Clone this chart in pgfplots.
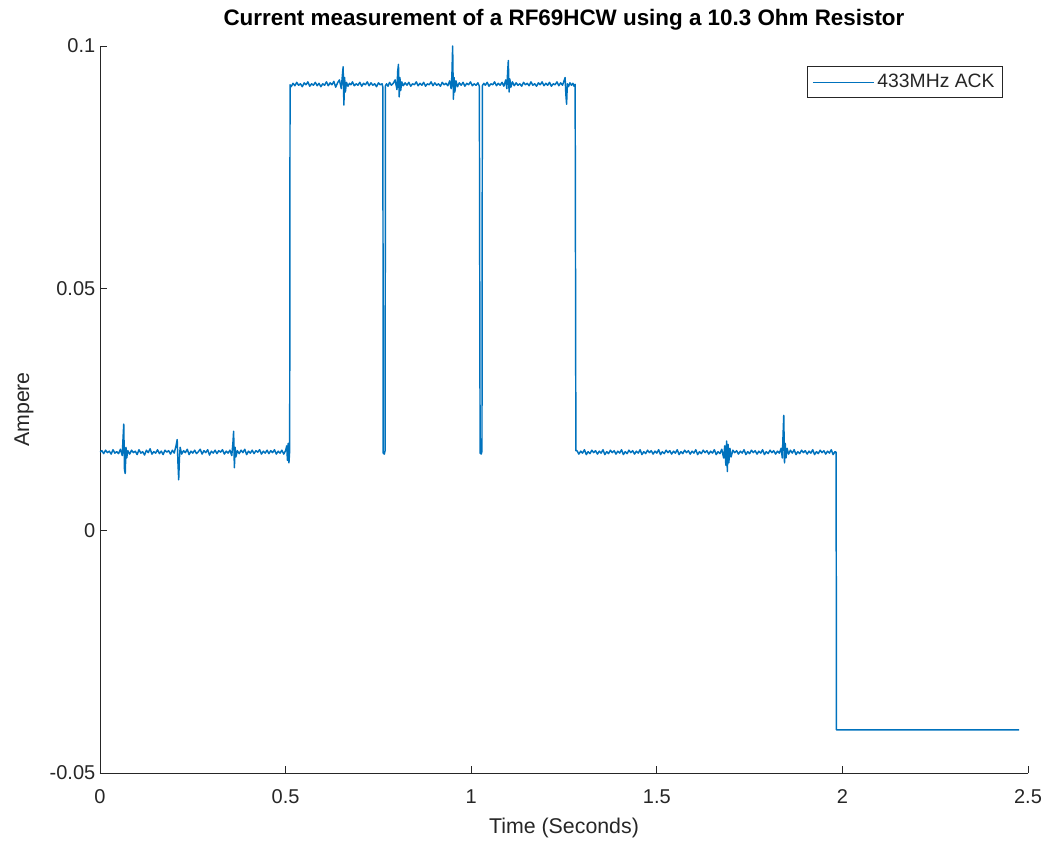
\documentclass[border=0pt]{standalone}
\usepackage{fontspec}
\setmainfont{Liberation Sans}
\usepackage{pgfplots}
\pgfplotsset{compat=1.18}
\definecolor{mblue}{RGB}{0,114,189}
\definecolor{axgray}{RGB}{38,38,38}
\pgfplotstableread{
x y
0.000 0.0162
0.005 0.0165
0.010 0.0159
0.015 0.0166
0.020 0.0161
0.025 0.0164
0.030 0.0158
0.035 0.0167
0.040 0.0160
0.045 0.0163
0.050 0.0159
0.055 0.0168
0.060 0.0155
0.062 0.0190
0.064 0.0220
0.066 0.0125
0.068 0.0118
0.070 0.0172
0.072 0.0150
0.075 0.0165
0.080 0.0158
0.085 0.0166
0.090 0.0161
0.095 0.0164
0.100 0.0157
0.105 0.0167
0.110 0.0160
0.115 0.0163
0.120 0.0156
0.125 0.0166
0.130 0.0161
0.135 0.0169
0.140 0.0158
0.145 0.0163
0.150 0.0160
0.155 0.0167
0.160 0.0159
0.165 0.0164
0.170 0.0157
0.175 0.0166
0.180 0.0162
0.185 0.0165
0.190 0.0158
0.195 0.0166
0.200 0.0160
0.205 0.0176
0.208 0.0188
0.210 0.0140
0.212 0.0105
0.214 0.0150
0.216 0.0172
0.220 0.0158
0.225 0.0165
0.230 0.0161
0.235 0.0168
0.240 0.0157
0.245 0.0164
0.250 0.0160
0.255 0.0166
0.260 0.0159
0.265 0.0163
0.270 0.0168
0.275 0.0158
0.280 0.0165
0.285 0.0161
0.290 0.0167
0.295 0.0156
0.300 0.0164
0.305 0.0160
0.310 0.0166
0.315 0.0159
0.320 0.0165
0.325 0.0162
0.330 0.0167
0.335 0.0158
0.340 0.0164
0.345 0.0160
0.350 0.0166
0.355 0.0155
0.358 0.0180
0.360 0.0205
0.362 0.0130
0.364 0.0172
0.366 0.0152
0.370 0.0165
0.375 0.0159
0.380 0.0166
0.385 0.0161
0.390 0.0168
0.395 0.0157
0.400 0.0164
0.405 0.0160
0.410 0.0166
0.415 0.0159
0.420 0.0165
0.425 0.0162
0.430 0.0167
0.435 0.0158
0.440 0.0164
0.445 0.0160
0.450 0.0166
0.455 0.0159
0.460 0.0165
0.465 0.0161
0.470 0.0167
0.475 0.0158
0.480 0.0164
0.485 0.0160
0.490 0.0166
0.495 0.0158
0.500 0.0165
0.503 0.0175
0.505 0.0145
0.507 0.0180
0.509 0.0140
0.511 0.0165
0.512 0.0920
0.515 0.0916
0.520 0.0923
0.525 0.0918
0.530 0.0925
0.535 0.0919
0.540 0.0922
0.545 0.0916
0.550 0.0924
0.555 0.0920
0.560 0.0926
0.565 0.0917
0.570 0.0922
0.575 0.0919
0.580 0.0925
0.585 0.0918
0.590 0.0923
0.595 0.0916
0.600 0.0922
0.605 0.0919
0.610 0.0926
0.615 0.0918
0.620 0.0924
0.625 0.0920
0.630 0.0927
0.635 0.0915
0.640 0.0924
0.645 0.0930
0.650 0.0912
0.653 0.0940
0.655 0.0957
0.657 0.0878
0.659 0.0935
0.661 0.0905
0.664 0.0925
0.668 0.0917
0.672 0.0923
0.676 0.0920
0.680 0.0926
0.685 0.0918
0.690 0.0922
0.695 0.0919
0.700 0.0925
0.705 0.0917
0.710 0.0923
0.715 0.0920
0.720 0.0926
0.725 0.0918
0.730 0.0924
0.735 0.0919
0.740 0.0922
0.745 0.0916
0.750 0.0924
0.755 0.0920
0.760 0.0922
0.762 0.0915
0.763 0.0160
0.766 0.0158
0.768 0.0165
0.769 0.0918
0.772 0.0922
0.776 0.0917
0.780 0.0925
0.785 0.0919
0.790 0.0923
0.795 0.0930
0.800 0.0910
0.802 0.0948
0.804 0.0962
0.806 0.0895
0.808 0.0935
0.810 0.0908
0.813 0.0926
0.817 0.0918
0.822 0.0924
0.827 0.0919
0.832 0.0925
0.837 0.0917
0.842 0.0922
0.847 0.0920
0.852 0.0926
0.857 0.0918
0.862 0.0923
0.867 0.0919
0.872 0.0925
0.877 0.0917
0.882 0.0922
0.887 0.0920
0.892 0.0926
0.897 0.0918
0.902 0.0924
0.907 0.0919
0.912 0.0922
0.917 0.0917
0.922 0.0925
0.927 0.0920
0.932 0.0923
0.937 0.0918
0.942 0.0928
0.946 0.0912
0.948 0.0940
0.950 0.1000
0.952 0.0890
0.954 0.0935
0.956 0.0905
0.959 0.0928
0.963 0.0916
0.968 0.0924
0.973 0.0919
0.978 0.0925
0.983 0.0917
0.988 0.0923
0.993 0.0920
0.998 0.0926
1.003 0.0918
1.008 0.0922
1.013 0.0919
1.018 0.0924
1.022 0.0917
1.024 0.0160
1.027 0.0158
1.029 0.0164
1.030 0.0918
1.034 0.0923
1.038 0.0919
1.043 0.0925
1.048 0.0917
1.053 0.0922
1.058 0.0920
1.063 0.0926
1.068 0.0918
1.073 0.0923
1.078 0.0919
1.083 0.0925
1.088 0.0917
1.093 0.0930
1.096 0.0912
1.098 0.0945
1.100 0.0970
1.102 0.0905
1.104 0.0932
1.107 0.0915
1.111 0.0926
1.116 0.0918
1.121 0.0924
1.126 0.0919
1.131 0.0922
1.136 0.0917
1.141 0.0925
1.146 0.0920
1.151 0.0923
1.156 0.0918
1.161 0.0926
1.166 0.0919
1.171 0.0922
1.176 0.0917
1.181 0.0924
1.186 0.0920
1.191 0.0926
1.196 0.0918
1.201 0.0923
1.206 0.0919
1.211 0.0925
1.216 0.0917
1.221 0.0922
1.226 0.0920
1.231 0.0926
1.236 0.0918
1.241 0.0924
1.246 0.0919
1.250 0.0928
1.253 0.0935
1.255 0.0900
1.257 0.0880
1.259 0.0922
1.262 0.0916
1.266 0.0924
1.270 0.0919
1.274 0.0923
1.277 0.0917
1.280 0.0921
1.282 0.0165
1.285 0.0165
1.290 0.0158
1.295 0.0164
1.300 0.0160
1.305 0.0167
1.310 0.0157
1.315 0.0163
1.320 0.0159
1.325 0.0166
1.330 0.0161
1.335 0.0165
1.340 0.0158
1.345 0.0164
1.350 0.0160
1.355 0.0167
1.360 0.0157
1.365 0.0163
1.370 0.0159
1.375 0.0166
1.380 0.0161
1.385 0.0165
1.390 0.0158
1.395 0.0164
1.400 0.0160
1.405 0.0167
1.410 0.0157
1.415 0.0163
1.420 0.0159
1.425 0.0166
1.430 0.0161
1.435 0.0165
1.440 0.0158
1.445 0.0164
1.450 0.0160
1.455 0.0167
1.460 0.0157
1.465 0.0163
1.470 0.0159
1.475 0.0166
1.480 0.0161
1.485 0.0165
1.490 0.0158
1.495 0.0164
1.500 0.0160
1.505 0.0167
1.510 0.0157
1.515 0.0163
1.520 0.0159
1.525 0.0166
1.530 0.0161
1.535 0.0165
1.540 0.0158
1.545 0.0164
1.550 0.0160
1.555 0.0167
1.560 0.0157
1.565 0.0163
1.570 0.0159
1.575 0.0166
1.580 0.0161
1.585 0.0165
1.590 0.0158
1.595 0.0164
1.600 0.0160
1.605 0.0167
1.610 0.0157
1.615 0.0163
1.620 0.0159
1.625 0.0166
1.630 0.0161
1.635 0.0165
1.640 0.0158
1.645 0.0164
1.650 0.0160
1.655 0.0167
1.660 0.0157
1.665 0.0163
1.670 0.0159
1.675 0.0168
1.680 0.0150
1.683 0.0175
1.686 0.0135
1.688 0.0185
1.690 0.0122
1.692 0.0178
1.694 0.0140
1.697 0.0170
1.700 0.0152
1.705 0.0166
1.710 0.0161
1.715 0.0165
1.720 0.0158
1.725 0.0164
1.730 0.0160
1.735 0.0167
1.740 0.0157
1.745 0.0163
1.750 0.0159
1.755 0.0166
1.760 0.0161
1.765 0.0165
1.770 0.0158
1.775 0.0164
1.780 0.0160
1.785 0.0167
1.790 0.0157
1.795 0.0163
1.800 0.0159
1.805 0.0166
1.810 0.0161
1.815 0.0165
1.820 0.0158
1.825 0.0164
1.830 0.0160
1.835 0.0170
1.838 0.0150
1.840 0.0195
1.842 0.0238
1.844 0.0140
1.846 0.0180
1.848 0.0150
1.851 0.0170
1.855 0.0158
1.860 0.0166
1.865 0.0160
1.870 0.0167
1.875 0.0157
1.880 0.0163
1.885 0.0159
1.890 0.0166
1.895 0.0161
1.900 0.0165
1.905 0.0158
1.910 0.0164
1.915 0.0160
1.920 0.0167
1.925 0.0157
1.930 0.0163
1.935 0.0159
1.940 0.0166
1.945 0.0161
1.950 0.0165
1.955 0.0158
1.960 0.0164
1.965 0.0160
1.970 0.0167
1.975 0.0157
1.980 0.0163
1.983 0.0162
1.984 -0.0411
2.476 -0.0411
}\datatable
\begin{document}
\begin{tikzpicture}
\begin{axis}[
  name=ax,
  scale only axis,
  width=696pt, height=545.25pt,
  xmin=0, xmax=2.5, ymin=-0.05, ymax=0.1,
  axis lines*=left,
  axis line style={-, axgray, line width=0.6pt},
  tick align=inside,
  major tick length=5pt,
  tick style={axgray, line width=0.6pt},
  xtick={0,0.5,1,1.5,2,2.5},
  xticklabels={0,0.5,1,1.5,2,2.5},
  ytick={-0.05,0,0.05,0.1},
  yticklabels={-0.05,0,0.05,0.1},
  minor tick num=0,
  ticklabel style={font=\fontsize{15}{18}\selectfont, text=axgray},
  xticklabel style={yshift=-9pt},
  title={Current measurement of a RF69HCW using a 10.3 Ohm Resistor},
  title style={font=\bfseries\fontsize{16.8}{20}\selectfont, at={(axis description cs:0.5,1.025)}, anchor=center},
  xlabel={Time (Seconds)},
  ylabel={Ampere},
  xlabel style={font=\fontsize{16}{19}\selectfont, text=axgray, at={(axis description cs:0.5,-0.0757)}, anchor=center},
  ylabel style={font=\fontsize{16}{19}\selectfont, text=axgray, at={(axis description cs:-0.082,0.5)}, anchor=center},
  legend style={at={(0.973,0.9725)}, anchor=north east, draw=axgray, line width=0.6pt,
    font=\fontsize{14.5}{17}\selectfont, text=axgray, inner xsep=4pt, inner ysep=4pt, row sep=0pt},
  legend cell align=left,
  legend image code/.code={\draw[#1, line width=0.8pt] (0pt,0pt) -- (46pt,0pt);},
]
\addplot[mblue, line width=1.1pt, line join=round] table[x=x, y=y] {\datatable};
\addlegendentry{433MHz ACK}
\end{axis}
\pgfresetboundingbox
\path (ax.south west) ++(-75pt,-54.75pt) rectangle ++(786pt,634.5pt);
\end{tikzpicture}
\end{document}
